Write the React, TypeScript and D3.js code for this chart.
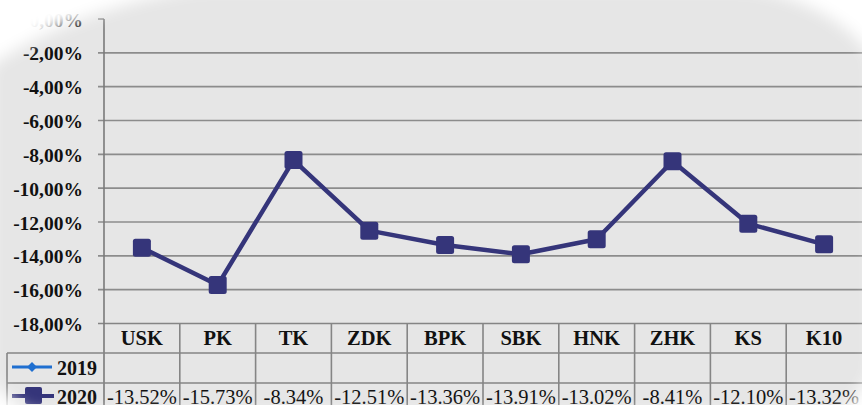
import React from "react";
import * as d3 from "d3";

const categories = ["USK", "PK", "TK", "ZDK", "BPK", "SBK", "HNK", "ZHK", "KS", "K10"];
const series2020 = [-13.52, -15.73, -8.34, -12.51, -13.36, -13.91, -13.02, -8.41, -12.1, -13.32];
const seriesNames = ["2019", "2020"];
const yTicks = [0, -2, -4, -6, -8, -10, -12, -14, -16, -18];

const W = 862;
const H = 405;
const FONT = '"Liberation Serif", "Times New Roman", Times, serif';

export default function App() {
  const x = d3.scaleBand<string>().domain(categories).range([104, 862]).paddingInner(0).paddingOuter(0);
  const y = d3.scaleLinear().domain([-18, 0]).range([323.5, 19]);
  const bw = x.bandwidth();
  const cx = (c: string) => (x(c) as number) + bw / 2;

  const line = d3
    .line<number>()
    .x((_, i) => cx(categories[i]))
    .y((d) => y(d));

  const fmtTick = (v: number) => v.toFixed(2).replace(".", ",") + "%";
  const fmtVal = (v: number) => v.toFixed(2) + "%";

  const lineColor = "#35357a";
  const gridColor = "#8c8c8c";
  const tableColor = "#858585";
  const tableTop = y(-18);
  const row1 = 353;
  const row2 = 383;
  const fs = { fontFamily: FONT };

  // gray area; outside of it the corners fade to white
  const gray =
    "M 200,-12 L 745,-12 C 800,-4 850,22 872,58 L 872,372 C 862,392 852,404 836,414 " +
    "L 30,414 C 14,404 2,394 -10,380 L -10,66 C 36,36 96,6 200,-12 Z";

  return (
    <svg
      width={W}
      height={H}
      style={{ position: "absolute", left: 0, top: 0, display: "block", fontFamily: FONT }}
    >
      <defs>
        <filter id="blur" filterUnits="userSpaceOnUse" x={-100} y={-100} width={W + 200} height={H + 200}>
          <feGaussianBlur stdDeviation={8} />
        </filter>
        <mask id="cornerMask" maskUnits="userSpaceOnUse" x={0} y={0} width={W} height={H}>
          <rect x={0} y={0} width={W} height={H} fill="white" />
          <path d={gray} fill="black" filter="url(#blur)" />
        </mask>
      </defs>
      <rect x={0} y={0} width={W} height={H} fill="#e6e6e6" />

      {yTicks.map((t) => (
        <g key={t}>
          <line x1={98} x2={t === 0 ? 104 : W} y1={y(t)} y2={y(t)} stroke={t === -18 ? tableColor : gridColor} strokeWidth={1.6} />
          <text x={83} y={y(t) + 7.5} textAnchor="end" fontSize={19.5} fontWeight="bold" fill="#111" style={fs}>
            {fmtTick(t)}
          </text>
        </g>
      ))}

      <line x1={104} x2={104} y1={y(0)} y2={H} stroke="#7a7a7a" strokeWidth={1.6} />

      <line x1={7} x2={W} y1={row1} y2={row1} stroke={tableColor} strokeWidth={1.6} />
      <line x1={7} x2={W} y1={row2} y2={row2} stroke={tableColor} strokeWidth={1.6} />
      <line x1={7} x2={7} y1={row1} y2={H} stroke={tableColor} strokeWidth={1.6} />
      {categories.slice(1).map((c) => (
        <line key={c} x1={x(c) as number} x2={x(c) as number} y1={tableTop} y2={H} stroke={tableColor} strokeWidth={1.6} />
      ))}
      {categories.map((c) => (
        <text key={c} x={cx(c)} y={345} textAnchor="middle" fontSize={20.5} fontWeight="bold" fill="#111" style={fs}>
          {c}
        </text>
      ))}
      {series2020.map((v, i) => (
        <text key={i} x={cx(categories[i])} y={403.5} textAnchor="middle" fontSize={20.5} fill="#111" style={fs}>
          {fmtVal(v)}
        </text>
      ))}

      <line x1={12} x2={52} y1={367} y2={367} stroke="#1f6fd0" strokeWidth={3} />
      <rect x={28.5} y={363.5} width={7} height={7} fill="#1f6fd0" transform="rotate(45 32 367)" />
      <text x={57} y={375} fontSize={20} fontWeight="bold" fill="#111" style={fs}>
        {seriesNames[0]}
      </text>
      <line x1={12} x2={54} y1={396} y2={396} stroke={lineColor} strokeWidth={4} />
      <rect x={25} y={387} width={17} height={17} rx={2} fill={lineColor} />
      <text x={57} y={403.5} fontSize={20} fontWeight="bold" fill="#111" style={fs}>
        {seriesNames[1]}
      </text>

      <path d={line(series2020) || ""} fill="none" stroke={lineColor} strokeWidth={4.5} strokeLinejoin="round" />
      {series2020.map((v, i) => (
        <rect key={i} x={cx(categories[i]) - 9} y={y(v) - 9} width={18} height={18} rx={2.5} fill={lineColor} />
      ))}

      <rect x={0} y={0} width={W} height={H} fill="white" mask="url(#cornerMask)" />
    </svg>
  );
}
